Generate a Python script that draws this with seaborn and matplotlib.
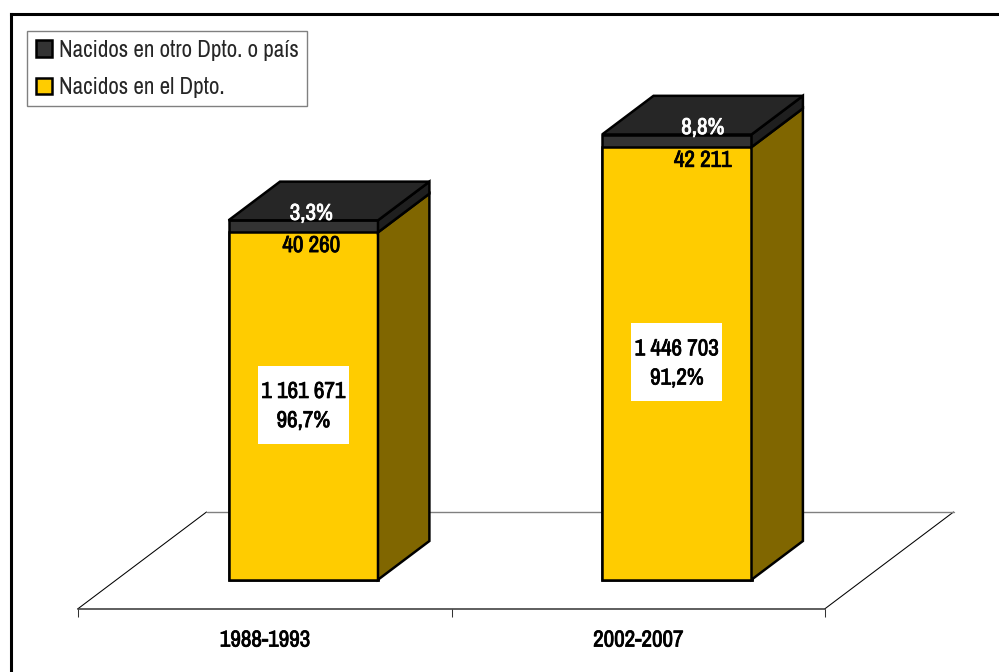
import matplotlib.patheffects as pe
import matplotlib.pyplot as plt
import numpy as np
import pandas as pd
import seaborn as sns
from matplotlib.lines import Line2D
from matplotlib.patches import Polygon
from matplotlib.transforms import Affine2D, IdentityTransform

periodos = ["1988-1993", "2002-2007"]
nacidos_dpto = [1161671, 1446703]
nacidos_otro = [40260, 42211]
pct_dpto = ["96,7%", "91,2%"]
pct_otro = ["3,3%", "8,8%"]
labels_dpto = ["1 161 671", "1 446 703"]
labels_otro = ["40 260", "42 211"]
label_otro = "Nacidos en otro Dpto. o país"
label_dpto = "Nacidos en el Dpto."

W, H = 999, 672
FONT = ["Archivo Narrow", "Roboto Condensed", "Liberation Sans"]
FS = 16.6
LW = 1.8
YELLOW, YELLOW_SIDE = "#FFCC00", "#806600"
DARK, DARK_TOP, DARK_SIDE = "#333333", "#262626", "#1F1F1F"
FLOOR = np.array([128.5, 96.7])  # floor depth, px
BAR_FRONT, BAR_BACK = 0.3, 0.7  # where the bars sit in that depth

sns.set_style("white")
plt.rcParams["font.family"] = FONT


def heavy(color):
    # the narrow font has no bold face here, so thicken the glyphs
    return [pe.withStroke(linewidth=0.55, foreground=color)]


df = pd.DataFrame({"periodo": periodos, "dpto": nacidos_dpto, "otro": nacidos_otro})
df["total"] = df["dpto"] + df["otro"]

fig = plt.figure(figsize=(W / 100, H / 100), dpi=100)
ax = fig.add_axes([78 / W, (H - 608.7) / H, 747 / W, 570 / H])
ax.patch.set_alpha(0)
sns.barplot(data=df, x="periodo", y="total", color=DARK, saturation=1, width=0.4,
            edgecolor="black", linewidth=LW, label=label_otro, ax=ax, zorder=3)
n_dark = len(ax.patches)
sns.barplot(data=df, x="periodo", y="dpto", color=YELLOW, saturation=1, width=0.4,
            edgecolor="black", linewidth=LW, label=label_dpto, ax=ax, zorder=4)
ax.set_xlim(-0.5, 1.5)
ax.set_ylim(0, 570 / 0.000299)
ax.set_xlabel("")
ax.set_ylabel("")
ax.set_yticks([])


def depth(d):
    return ax.transData + Affine2D().translate(*(FLOOR * d))


def px(x, y, d=0.0):
    return ax.transData.transform((x, y)) + FLOOR * d


def face(points, color, z=5, lw=LW, edge="black"):
    ax.add_patch(Polygon(points, closed=True, facecolor=color, edgecolor=edge, linewidth=lw,
                         joinstyle="miter", transform=IdentityTransform(), clip_on=False, zorder=z))


front = depth(BAR_FRONT)
for bar in ax.patches:
    bar.set_transform(front)
    bar.set_clip_on(False)
    bar.set_joinstyle("miter")

# sides and tops of the bars, from the bars themselves
for i in range(len(periodos)):
    dark = ax.patches[i]
    yellow = ax.patches[n_dark + i]
    x0, x1 = dark.get_x(), dark.get_x() + dark.get_width()
    top, mid = dark.get_height(), yellow.get_height()
    face([px(x1, 0, BAR_FRONT), px(x1, 0, BAR_BACK), px(x1, mid, BAR_BACK), px(x1, mid, BAR_FRONT)], YELLOW_SIDE)
    face([px(x1, mid, BAR_FRONT), px(x1, mid, BAR_BACK), px(x1, top, BAR_BACK), px(x1, top, BAR_FRONT)], DARK_SIDE)
    face([px(x0, top, BAR_FRONT), px(x0, top, BAR_BACK), px(x1, top, BAR_BACK), px(x1, top, BAR_FRONT)], DARK_TOP)

    # white box behind the main label
    cx, cy = px(i, mid / 2, BAR_FRONT)
    face([(cx - 45.5, cy - 38), (cx + 45.5, cy - 38), (cx + 45.5, cy + 40), (cx - 45.5, cy + 40)], "white", z=7, lw=0, edge="none")
    ax.annotate(f"{labels_dpto[i]}\n{pct_dpto[i]}", xy=(i, mid / 2), xycoords=front, ha="center", va="center",
                fontsize=FS, linespacing=1.48, color="black", zorder=8, annotation_clip=False,
                path_effects=heavy("black"))
    shift = [8, 26][i] * 0.72
    ax.annotate(pct_otro[i], xy=(i, top), xycoords=front, xytext=(shift, 5), textcoords="offset points",
                ha="center", va="center", fontsize=FS, color="white", zorder=8, path_effects=heavy("white"))
    ax.annotate(labels_otro[i], xy=(i, mid), xycoords=front, xytext=(shift, -9.5), textcoords="offset points",
                ha="center", va="center", fontsize=FS, color="black", zorder=8, path_effects=heavy("black"))

# floor
left, right = ax.get_xlim()
for side in (left, right):
    ax.plot([px(side, 0)[0], px(side, 0, 1)[0]], [px(side, 0)[1], px(side, 0, 1)[1]], color="black", lw=0.75,
            transform=IdentityTransform(), clip_on=False, zorder=1)
ax.plot([px(left, 0, 1)[0], px(right, 0, 1)[0]], [px(left, 0, 1)[1], px(right, 0, 1)[1]], color="#808080", lw=1.0,
        transform=IdentityTransform(), clip_on=False, zorder=1)

sns.despine(ax=ax, left=True, top=True, right=True)
ax.spines["bottom"].set_color("#333333")
ax.spines["bottom"].set_linewidth(1.1)
ax.set_xticks([0, 1], periodos, fontsize=FS)
ax.set_xticks([-0.5, 0.5, 1.5], minor=True)
ax.tick_params(axis="x", which="major", length=0, pad=15, colors="black")
ax.tick_params(axis="x", which="minor", length=6, width=0.75, color="#333333", bottom=True)
for t in ax.get_xticklabels():
    t.set_path_effects(heavy("black"))

leg = ax.legend(loc="upper left", bbox_to_anchor=(27 / W, 1 - 31 / H), bbox_transform=fig.transFigure,
                fontsize=FS, frameon=True, fancybox=False, framealpha=1, edgecolor="#808080",
                borderaxespad=0, borderpad=0.37, handlelength=0.72, handleheight=0.72, handletextpad=0.28,
                labelspacing=0.71)
leg.get_frame().set_linewidth(1.0)
leg.set_zorder(9)
for h in leg.get_patches():
    h.set_edgecolor("black")
    h.set_linewidth(LW)

# outer frame, open at the right and bottom edges
fig.add_artist(Line2D([10.5 / W, 10.5 / W], [0, 1 - 13.5 / H], color="black", lw=2.2, solid_capstyle="projecting"))
fig.add_artist(Line2D([10.5 / W, 1], [1 - 13.5 / H, 1 - 13.5 / H], color="black", lw=2.2, solid_capstyle="projecting"))

fig.savefig("out.png", dpi=100, facecolor="white")
